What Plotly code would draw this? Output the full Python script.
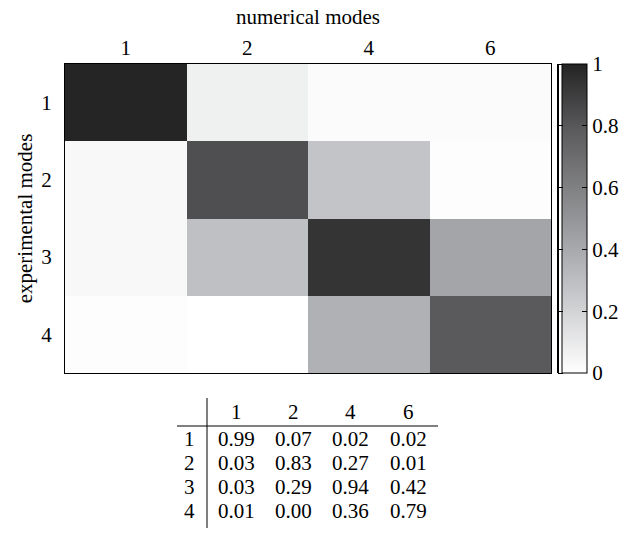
import plotly.graph_objects as go

numerical_modes = ["1", "2", "4", "6"]
experimental_modes = ["1", "2", "3", "4"]
mac_values = [
    [0.99, 0.07, 0.02, 0.02],
    [0.03, 0.83, 0.27, 0.01],
    [0.03, 0.29, 0.94, 0.42],
    [0.01, 0.00, 0.36, 0.79],
]
colorbar_ticks = [0, 0.2, 0.4, 0.6, 0.8, 1]
colorbar_ticktext = ["0", "0.2", "0.4", "0.6", "0.8", "1"]

W, H = 628, 537
ML, MR, MT, MB = 65, 77, 64, 164
PW, PH = W - ML - MR, H - MT - MB

def px(x):
    return (x - ML) / PW

def py(y):
    return (H - MB - y) / PH

FONT = "Liberation Serif"
FS = 21

colorscale = [
    [0.0, "#ffffff"],
    [0.27, "#c3c4c7"],
    [0.42, "#a4a5a8"],
    [0.79, "#5a5a5c"],
    [0.83, "#4f4f52"],
    [0.94, "#343434"],
    [1.0, "#222222"],
]
tickfont = dict(family=FONT, size=FS, color="black")

fig = go.Figure()
fig.add_trace(go.Heatmap(
    z=mac_values, x=numerical_modes, y=experimental_modes,
    zmin=0, zmax=1, colorscale=colorscale, showscale=True,
    colorbar=dict(
        x=px(562), xanchor="left", y=0.5, yanchor="middle",
        len=1, lenmode="fraction", thickness=25, xpad=0, ypad=0,
        outlinewidth=1, outlinecolor="black",
        tickvals=colorbar_ticks, ticktext=colorbar_ticktext,
        ticks="inside", ticklen=5, tickcolor="black",
        tickfont=tickfont,
    ),
    hoverinfo="skip",
))
# second (invisible) colorbar providing the tick marks on the left edge of the bar
fig.add_trace(go.Heatmap(
    z=mac_values, x=numerical_modes, y=experimental_modes,
    zmin=0, zmax=1, colorscale=[[0, "black"], [1, "black"]], opacity=0,
    showscale=True,
    colorbar=dict(
        x=px(563), xanchor="right", y=0.5, yanchor="middle",
        len=1, lenmode="fraction", thickness=1, xpad=0, ypad=0,
        outlinewidth=0,
        tickvals=colorbar_ticks, showticklabels=False,
        ticks="outside", ticklen=5, tickcolor="black",
    ),
    hoverinfo="skip",
))

fig.update_xaxes(
    side="top", type="category",
    title=dict(text="numerical modes", standoff=5, font=tickfont),
    tickfont=tickfont, ticklabelstandoff=0,
    showline=True, mirror=True, linecolor="black", linewidth=1,
    ticks="", showgrid=False, zeroline=False,
)
fig.update_yaxes(
    type="category", autorange="reversed",
    title=dict(text="experimental modes", standoff=2, font=tickfont),
    tickfont=tickfont, ticklabelstandoff=8,
    showline=True, mirror=True, linecolor="black", linewidth=1,
    ticks="", showgrid=False, zeroline=False,
)

# table below the heatmap
col_x = [236, 293, 350, 408]
row_y = [439, 463, 487, 511]
header_y = 412
label_x = 197
annotations = []
for j, lab in enumerate(numerical_modes):
    annotations.append(dict(x=px(col_x[j]), y=py(header_y), xref="paper", yref="paper",
                            text=lab, showarrow=False, xanchor="center", yanchor="middle",
                            font=tickfont))
for i, lab in enumerate(experimental_modes):
    annotations.append(dict(x=px(label_x), y=py(row_y[i]), xref="paper", yref="paper",
                            text=lab, showarrow=False, xanchor="right", yanchor="middle",
                            font=tickfont))
    for j in range(len(numerical_modes)):
        annotations.append(dict(x=px(col_x[j]), y=py(row_y[i]), xref="paper", yref="paper",
                                text=f"{mac_values[i][j]:.2f}", showarrow=False,
                                xanchor="center", yanchor="middle", font=tickfont))

shapes = [
    dict(type="line", xref="paper", yref="paper", x0=px(207), x1=px(207),
         y0=py(398), y1=py(528), line=dict(color="black", width=1)),
    dict(type="line", xref="paper", yref="paper", x0=px(177), x1=px(438),
         y0=py(426), y1=py(426), line=dict(color="black", width=1)),
]

fig.update_layout(
    width=W, height=H, margin=dict(l=ML, r=MR, t=MT, b=MB, autoexpand=False),
    paper_bgcolor="white", plot_bgcolor="white",
    font=dict(family=FONT, size=FS, color="black"),
    annotations=annotations, shapes=shapes,
)

fig.write_html("out.html", config={"displayModeBar": False},
               post_script="document.body.style.margin='0';document.body.style.padding='0';")
